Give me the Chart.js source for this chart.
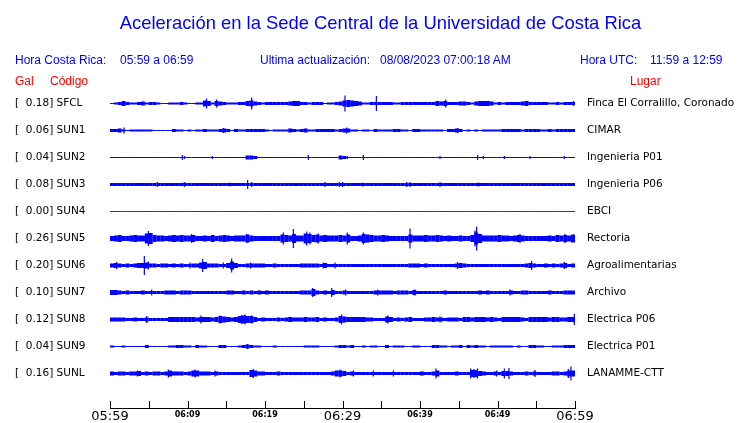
<!DOCTYPE html>
<html>
<head>
<meta charset="utf-8">
<script src="https://cdn.jsdelivr.net/npm/chart.js@4/dist/chart.umd.min.js"></script>
<style>
  html, body { margin: 0; padding: 0; background: #fff; }
  #wrap { position: relative; width: 740px; height: 423px; overflow: hidden; }
  #c { position: absolute; left: 0; top: 0; }
  .t { position: absolute; white-space: pre; font-family: "Liberation Sans", Arial, sans-serif; line-height: 14px; font-size: 12px; color: #0000ff; }
  .title { font-size: 18.4px; line-height: 22px; left: 0; width: 761px; text-align: center; top: 12px; }
  .red { color: #ff0000; }
</style>
</head>
<body>
<div id="wrap">
  <canvas id="c" width="740" height="423"></canvas>
  <div class="t title">Aceleración en la Sede Central de la Universidad de Costa Rica</div>
  <div class="t" style="left:15px;top:53px">Hora Costa Rica:</div>
  <div class="t" style="left:120px;top:53px">05:59 a 06:59</div>
  <div class="t" style="left:260px;top:53px">Ultima actualización:</div>
  <div class="t" style="left:380px;top:53px">08/08/2023 07:00:18 AM</div>
  <div class="t" style="left:580px;top:53px">Hora UTC:</div>
  <div class="t" style="left:650px;top:53px">11:59 a 12:59</div>
  <div class="t red" style="left:15px;top:74px">Gal</div>
  <div class="t red" style="left:50px;top:74px">Código</div>
  <div class="t red" style="left:630px;top:74px">Lugar</div>
</div>
<script>
// ---------------- DATA ----------------
const CODES = ['SFCL','SUN1','SUN2','SUN3','SUN4','SUN5','SUN6','SUN7','SUN8','SUN9','SUNL'];
const GAL_PEAKS = [0.18,0.06,0.04,0.08,0.00,0.26,0.20,0.10,0.12,0.04,0.16];
const PLACES = ['Finca El Corralillo, Coronado','CIMAR','Ingenieria P01','Ingenieria P06','EBCI','Rectoria','Agroalimentarias','Archivo','Electrica P06','Electrica P01','LANAMME-CTT'];
const TICK_MINUTES = [0,5,10,15,20,25,30,35,40,45,50,55,60];
const TICK_LABELS = ['05:59','','06:09','','06:19','','06:29','','06:39','','06:49','','06:59'];
const BIN_MIN = 0.5; // envelope bin length, minutes

// envelope (peak-to-peak amplitude, counts) per half-minute bin
const ENV_SFCL = [
 1,2,3,5,3,2,2,3,4,2, 3,3,2,1,1,2,2,2,3,2, 1,1,2,2,6,5,2,5,4,3, 2,2,2,3,3,5,6,4,3,2,
 3,3,3,3,3,3,4,5,5,3, 3,2,3,3,3,1,2,2,3,4, 6,7,6,5,4,2,2,3,3,3, 3,3,3,2,2,3,3,3,3,3,
 3,3,3,3,5,4,5,3,3,3, 4,4,3,2,4,5,5,5,4,2, 3,2,3,3,3,3,4,5,3,3, 3,3,3,2,2,3,2,3,3,3];
const ENV_SUN1 = [
 3,3,4,2,1,2,2,2,2,2, 2,1,1,1,1,1,3,2,2,1, 2,1,2,2,3,2,2,2,3,4, 3,1,3,2,2,3,3,3,3,3,
 2,1,2,2,2,2,4,3,2,3, 4,2,2,3,3,3,3,3,2,3, 4,4,2,2,1,2,2,1,3,2, 2,2,2,3,3,2,2,1,3,3,
 2,2,2,2,2,2,1,3,3,4, 3,1,2,1,2,1,2,2,2,2, 2,3,3,3,3,3,2,3,3,3, 3,2,2,3,2,3,3,3,3,3];
const ENV_SUN2 = [
 1,1,1,1,1,1,1,1,1,1, 1,1,1,1,1,1,1,1,1,1, 1,1,1,1,1,1,1,1,1,1, 1,1,1,1,1,4,4,3,1,1,
 1,1,1,1,1,1,1,1,1,1, 1,1,1,1,1,1,1,1,1,4, 3,1,1,1,1,1,1,1,1,1, 1,1,1,1,1,1,1,1,1,1,
 1,1,1,1,1,1,1,1,1,1, 1,1,1,1,1,1,1,1,1,1, 1,1,1,1,1,1,1,1,1,1, 1,1,1,1,1,1,1,1,1,1];
const ENV_SUN3 = [
 3,3,3,3,3,3,3,3,3,3, 3,3,3,3,3,3,3,3,3,3, 3,3,3,3,3,3,3,3,3,3, 3,3,3,3,3,3,3,3,3,3,
 3,3,3,3,3,3,3,3,3,3, 3,3,3,3,3,3,3,3,3,3, 3,3,3,3,3,3,3,3,3,3, 3,3,3,3,3,3,3,3,3,3,
 3,3,3,3,3,3,3,3,3,3, 3,3,3,3,3,3,3,3,3,3, 3,3,3,3,3,3,3,3,3,3, 3,3,3,3,3,3,3,3,3,3];
const ENV_SUN4 = [
 1,1,1,1,1,1,1,1,1,1, 1,1,1,1,1,1,1,1,1,1, 1,1,1,1,1,1,1,1,1,1, 1,1,1,1,1,1,1,1,1,1,
 1,1,1,1,1,1,1,1,1,1, 1,1,1,1,1,1,1,1,1,1, 1,1,1,1,1,1,1,1,1,1, 1,1,1,1,1,1,1,1,1,1,
 1,1,1,1,1,1,1,1,1,1, 1,1,1,1,1,1,1,1,1,1, 1,1,1,1,1,1,1,1,1,1, 1,1,1,1,1,1,1,1,1,1];
const ENV_SUN5 = [
 5,6,7,5,5,6,7,6,6,10, 11,7,6,6,5,6,7,6,7,6, 6,7,5,5,6,5,7,5,6,7, 6,5,6,6,6,8,6,5,5,5,
 5,5,5,5,8,7,6,9,6,6, 10,9,7,8,6,7,6,6,6,7, 6,8,5,5,6,9,8,7,6,6, 7,6,5,5,5,5,5,8,6,6,
 6,7,6,6,7,6,5,6,5,5, 6,5,5,7,12,9,6,6,6,6, 7,6,6,5,6,7,6,5,5,5, 5,5,5,6,5,7,6,7,6,8];
const ENV_SUN6 = [
 4,5,4,3,4,3,4,5,5,6, 4,4,3,4,4,3,4,3,4,3, 3,4,4,6,7,4,4,4,3,3, 5,8,5,3,3,4,4,4,4,4,
 3,3,4,3,3,3,3,3,3,4, 4,4,4,4,3,5,3,3,3,3, 3,3,3,3,3,3,3,3,3,3, 3,3,3,3,3,3,3,4,4,4,
 3,4,3,3,3,3,3,3,3,4, 5,4,3,3,3,3,3,3,3,3, 3,3,3,3,3,3,3,4,5,4, 3,3,4,3,4,3,4,5,3,4];
const ENV_SUN7 = [
 5,5,4,3,4,3,3,3,4,3, 3,3,3,3,4,4,4,3,4,4, 4,3,3,3,3,3,3,3,3,3, 4,4,3,3,4,3,4,3,4,3,
 4,3,3,3,3,3,3,3,3,4, 4,4,7,4,3,4,3,5,3,3, 4,3,3,3,3,3,3,3,4,4, 4,4,4,3,4,4,4,3,5,3,
 3,3,3,3,3,3,4,3,3,3, 3,3,3,3,3,4,3,4,3,3, 3,3,3,4,3,3,4,4,3,3, 3,3,3,4,3,3,3,4,4,4];
const ENV_SUN8 = [
 4,4,4,4,3,3,4,3,3,4, 3,3,3,3,3,5,5,5,5,5, 5,5,4,5,5,5,4,5,7,6, 5,4,5,7,8,7,7,5,3,4,
 3,3,3,4,3,4,5,4,4,4, 5,4,4,5,3,4,3,3,4,7, 6,5,5,5,5,5,4,4,3,3, 3,6,5,3,4,3,4,5,3,3,
 3,4,4,5,4,4,3,4,4,4, 3,5,5,4,5,5,5,4,5,4, 3,5,5,5,5,5,4,3,5,5, 5,5,5,4,5,5,4,4,5,5];
const ENV_SUN9 = [
 2,1,1,2,1,1,1,1,1,3, 1,1,1,1,1,2,2,3,3,2, 2,1,3,2,2,1,1,1,3,3, 1,1,1,2,3,4,3,2,2,1,
 1,1,2,1,1,1,1,1,1,1, 2,2,2,2,1,1,1,1,2,3, 3,2,3,1,1,2,1,2,2,1, 1,3,1,2,2,2,1,1,2,2,
 1,1,1,3,3,2,2,1,2,2, 3,1,3,2,3,2,2,1,2,2, 2,2,2,2,1,2,1,1,3,3, 2,2,1,1,2,2,2,3,3,3];
const ENV_SUNL = [
 4,3,4,4,3,4,4,5,3,4, 3,4,4,3,4,6,4,4,4,3, 4,6,6,4,4,4,3,4,3,3, 3,3,3,3,3,3,7,6,4,4,
 3,3,3,4,3,3,3,3,3,3, 3,3,3,3,3,3,3,4,6,6, 5,3,4,3,3,3,3,3,3,3, 3,3,3,3,3,3,3,3,3,3,
 4,3,3,4,6,3,3,3,3,4, 3,3,3,7,7,5,4,3,3,4, 3,5,5,4,3,3,3,4,3,4, 3,3,3,3,4,4,3,4,6,6];

// isolated spikes: [minute, peak-to-peak amplitude]
const SPK_SFCL = [[12.47,10],[13.76,8],[18.28,12],[30.32,16],[34.37,15],[43.31,8],[59.8,5]];
const SPK_SUN1 = [[1.81,6],[14.62,5],[30.54,6],[44.86,5]];
const SPK_SUN2 = [[9.33,5],[9.59,3],[13.2,3],[25.59,5],[30.62,3],[32.69,5],[42.58,3],[47.44,5],[48.17,3],[50.88,3],[54.19,3],[58.62,3]];
const SPK_SUN3 = [[6.11,5],[9.59,5],[15.48,4],[17.76,9],[18.28,5],[27.74,5],[29.59,5],[30.02,5],[32.6,4],[38.28,5],[38.71,5],[42.58,5],[47.53,4]];
const SPK_SUN4 = [];
const SPK_SUN5 = [[4.95,15],[10.54,9],[17.63,9],[22.37,12],[23.66,19],[25.38,14],[25.81,12],[26.88,10],[30.62,12],[32.69,12],[38.71,20],[47.1,16],[47.31,24],[52.9,9],[58.71,9]];
const SPK_SUN6 = [[0.86,7],[4.43,19],[4.95,8],[10.32,6],[11.96,13],[14.62,6],[15.7,14],[18.15,6],[27.53,6],[29.03,6],[44.86,7],[54.41,9],[58.62,7]];
const SPK_SUN7 = [[5.38,6],[26.15,9],[28.6,9],[30.41,6],[34.54,6],[39.35,6],[51.61,6]];
const SPK_SUN8 = [[4.73,7],[11.74,8],[14.19,8],[16.99,9],[17.42,10],[18.28,8],[29.89,10],[35.83,8],[42.58,6],[59.91,11]];
const SPK_SUN9 = [[17.72,5]];
const SPK_SUNL = [[3.53,6],[7.53,8],[10.97,8],[13.55,6],[18.49,9],[29.68,8],[31.4,6],[33.98,6],[36.56,6],[42.06,10],[46.54,10],[46.97,9],[47.4,10],[49.89,6],[50.88,10],[51.48,11],[54.84,7],[59.14,9],[59.48,14]];

const ENVS = [ENV_SFCL,ENV_SUN1,ENV_SUN2,ENV_SUN3,ENV_SUN4,ENV_SUN5,ENV_SUN6,ENV_SUN7,ENV_SUN8,ENV_SUN9,ENV_SUNL];
const SPKS = [SPK_SFCL,SPK_SUN1,SPK_SUN2,SPK_SUN3,SPK_SUN4,SPK_SUN5,SPK_SUN6,SPK_SUN7,SPK_SUN8,SPK_SUN9,SPK_SUNL];

// ---------------- LAYOUT / STYLE ----------------
const Y_SPAN = 319;          // y scale extent (counts) = plot height
const ROW_FIRST = 304.5;     // trace baseline of first row
const ROW_STEP = 27;
const rowCenter = i => ROW_FIRST - i * ROW_STEP;
const traceColor = i => CODES[i] === 'SUN4' ? '#cc0000' : '#0000ff';

const datasets = [];
ENVS.forEach((env, i) => {
  const c = rowCenter(i);
  datasets.push({
    type: 'bar',
    data: env.map((v, k) => ({ x: (k + 0.5) * BIN_MIN, y: [c - v / 2, c + v / 2] })),
    backgroundColor: traceColor(i), borderWidth: 0, barThickness: 4,
    grouped: false, inflateAmount: 0, yAxisID: 'y'
  });
  datasets.push({
    type: 'bar',
    data: SPKS[i].map(([t, h]) => ({ x: t, y: [c - h / 2, c + h / 2] })),
    backgroundColor: traceColor(i), borderWidth: 0, barThickness: 1.2,
    grouped: false, inflateAmount: 0, yAxisID: 'y'
  });
});

const upTicks = {
  id: 'upTicks',
  afterDraw(chart) {
    const x = chart.scales.x, ctx = chart.ctx;
    ctx.save();
    ctx.strokeStyle = '#000'; ctx.lineWidth = 1;
    ctx.beginPath();
    x.ticks.forEach(t => {
      const px = Math.round(x.getPixelForValue(t.value)) + 0.5;
      ctx.moveTo(px, x.top); ctx.lineTo(px, x.top - 7);
    });
    ctx.stroke();
    ctx.restore();
  }
};

const rowTicks = s => { s.ticks = CODES.map((_, i) => ({ value: rowCenter(i) })); };
const noVPad = w => s => { s.width = w; s.paddingTop = 0; s.paddingBottom = 0; };

new Chart(document.getElementById('c'), {
  type: 'bar',
  data: { datasets },
  plugins: [upTicks],
  options: {
    responsive: false, animation: false, events: [],
    layout: { padding: { left: 15, right: 0, top: 89, bottom: 0 } },
    plugins: { legend: { display: false }, tooltip: { enabled: false }, title: { display: false } },
    scales: {
      x: {
        type: 'linear', min: 0, max: 60, offset: false, position: 'bottom',
        afterBuildTicks: s => { s.ticks = TICK_MINUTES.map(v => ({ value: v })); },
        afterFit: s => { s.height = 15; },
        grid: { display: true, drawOnChartArea: false, drawTicks: false, tickLength: 0, offset: false },
        border: { display: true, color: '#000', width: 1 },
        ticks: {
          autoSkip: false, maxRotation: 0, padding: 1, color: '#000',
          callback: (v, i) => TICK_LABELS[i],
          font: ctx => (ctx.index % 6 === 0)
            ? { family: 'DejaVu Sans', size: 13, lineHeight: 1.2 }
            : { family: 'DejaVu Sans', size: 8, weight: 'bold', lineHeight: 1.6 }
        }
      },
      y: {
        type: 'linear', position: 'left', min: 0, max: Y_SPAN,
        afterBuildTicks: rowTicks,
        afterFit: noVPad(95),
        grid: { display: false, drawTicks: false, tickLength: 0 },
        border: { display: false },
        ticks: {
          autoSkip: false, crossAlign: 'far', padding: 0, color: '#000',
          font: { family: 'DejaVu Sans', size: 10.5 },
          callback: (v, i) => '[  ' + GAL_PEAKS[i].toFixed(2) + '] ' + CODES[i]
        }
      },
      y2: {
        type: 'linear', position: 'right', min: 0, max: Y_SPAN,
        afterBuildTicks: rowTicks,
        afterFit: noVPad(165),
        grid: { display: false, drawTicks: false, tickLength: 0 },
        border: { display: false },
        ticks: {
          autoSkip: false, crossAlign: 'near', padding: 12, color: '#000',
          font: { family: 'DejaVu Sans', size: 10.5 },
          callback: (v, i) => PLACES[i]
        }
      }
    }
  }
});
</script>
</body>
</html>
